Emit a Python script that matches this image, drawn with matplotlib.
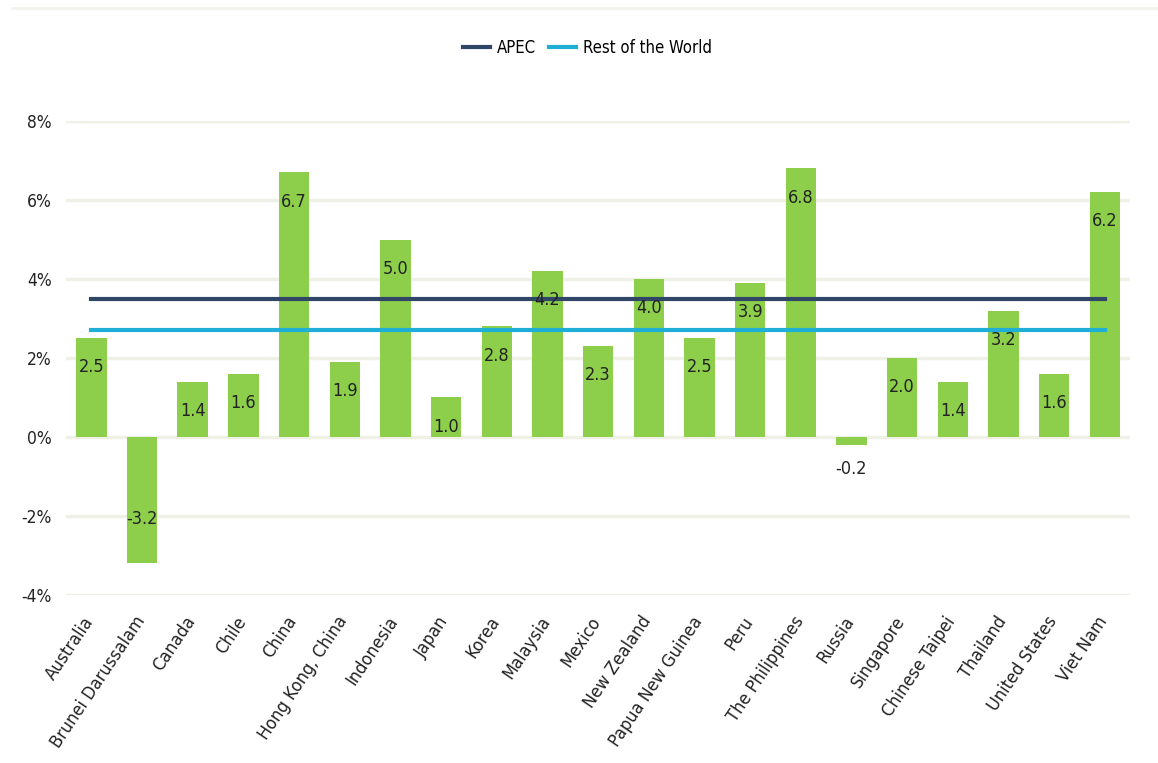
import matplotlib
matplotlib.use("Agg")
import matplotlib.pyplot as plt
import matplotlib.transforms as mtransforms
from matplotlib.lines import Line2D
from matplotlib.ticker import FuncFormatter

plt.rcParams["font.family"] = ["DejaVu Sans"]
plt.rcParams["font.stretch"] = "condensed"

economies = ["Australia", "Brunei Darussalam", "Canada", "Chile", "China",
             "Hong Kong, China", "Indonesia", "Japan", "Korea", "Malaysia",
             "Mexico", "New Zealand", "Papua New Guinea", "Peru",
             "The Philippines", "Russia", "Singapore", "Chinese Taipei",
             "Thailand", "United States", "Viet Nam"]
growth = [2.5, -3.2, 1.4, 1.6, 6.7, 1.9, 5.0, 1.0, 2.8, 4.2, 2.3, 4.0, 2.5,
          3.9, 6.8, -0.2, 2.0, 1.4, 3.2, 1.6, 6.2]
apec_avg = 3.5
rest_avg = 2.7

BAR = "#8dcf4b"
APEC_C = "#2f4666"
REST_C = "#1eaed6"
GRID = "#f0f1e6"
TXT = "#222222"

fig = plt.figure(figsize=(11.58, 7.63), dpi=100)
ax = fig.add_axes([0.057, 0.2202, 0.919, 0.6212])

x = list(range(len(economies)))
ax.bar(x, growth, width=0.6, color=BAR, zorder=2)
ax.plot([x[0], x[-1]], [apec_avg, apec_avg], color=APEC_C, lw=3, zorder=3, label="APEC")
ax.plot([x[0], x[-1]], [rest_avg, rest_avg], color=REST_C, lw=3, zorder=3,
        label="Rest of the World")

for xi, v in zip(x, growth):
    if abs(v) < 0.5:
        off = -17          # too short: label sits below the bar
    elif v >= 0:
        off = -21
    else:
        off = 32
    ax.annotate(f"{v:.1f}", (xi, v), xytext=(0, off), textcoords="offset points",
                ha="center", va="center", fontsize=13, color=TXT, zorder=4)

ax.set_xlim(-0.5, len(economies) - 0.5)
ax.set_ylim(-4, 8)
ax.set_yticks([-4, -2, 0, 2, 4, 6, 8])
ax.yaxis.set_major_formatter(FuncFormatter(lambda v, p: f"{v:.0f}%"))
ax.grid(axis="y", color=GRID, lw=2.5, zorder=0)
ax.set_axisbelow(True)
for s in ax.spines.values():
    s.set_visible(False)
ax.tick_params(length=0)
ax.tick_params(axis="y", labelsize=12.5, labelcolor=TXT, pad=10)
ax.set_xticks(x)
ax.set_xticklabels(economies, rotation=56, ha="right", rotation_mode="anchor",
                   fontsize=13, color=TXT)
ax.tick_params(axis="x", pad=13)
shift = mtransforms.ScaledTranslation(-6 / 72, 0, fig.dpi_scale_trans)
for lab in ax.get_xticklabels():
    lab.set_transform(lab.get_transform() + shift)

ax.legend(loc="center", bbox_to_anchor=(0.49, 1.154), ncol=2, frameon=False,
          fontsize=12, handlelength=1.6, handletextpad=0.4, columnspacing=0.8)
# faint rule across top
fig.add_artist(Line2D([0.01, 1.0], [0.989, 0.989], color="#f3f3ee", lw=2))

fig.savefig("out.png", dpi=100, facecolor="white")
